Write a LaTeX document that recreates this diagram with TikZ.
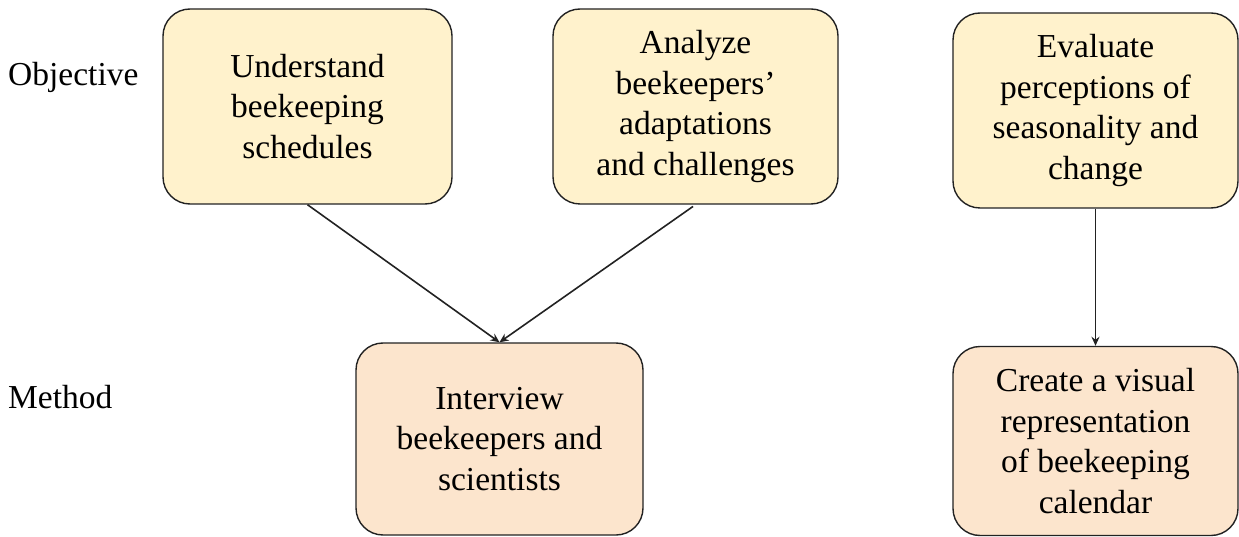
\documentclass[tikz,border=0pt]{standalone}
\usepackage{fontspec}
\setmainfont{Liberation Serif}
\usetikzlibrary{arrows.meta}
\definecolor{objfill}{HTML}{FFF2CC}
\definecolor{metfill}{HTML}{FCE5CD}
\definecolor{edge}{HTML}{222222}
\tikzset{
  box/.style={draw=edge, line width=1.4pt, rounded corners=27pt, inner sep=0pt,
    align=center, font=\fontsize{33.5}{40.5}\selectfont, text=black},
  objbox/.style={box, fill=objfill},
  metbox/.style={box, fill=metfill},
  rowlabel/.style={anchor=base west, inner sep=0pt, font=\fontsize{33.5}{40.5}\selectfont},
  conn/.style={draw=edge, line width=1.6pt, -{Stealth[length=9pt,width=8pt]}}
}
\begin{document}
\begin{tikzpicture}[x=1pt,y=-1pt]
\useasboundingbox (0,0) rectangle (1239,537);
\node[rowlabel] (lobj) at (8,86) {Objective};
\node[rowlabel] (lmet) at (8,408) {Method};
\node[objbox, minimum width=289pt, minimum height=195pt] (o1) at (307.5,106.5) {Understand\\beekeeping\\schedules};
\node[objbox, minimum width=285pt, minimum height=195pt] (o2) at (695.5,106.5) {Analyze\\beekeepers’\\adaptations\\and challenges};
\node[objbox, minimum width=285pt, minimum height=195pt] (o3) at (1095.5,110.5) {Evaluate\\perceptions of\\seasonality and\\change};
\node[metbox, minimum width=287pt, minimum height=192pt] (m1) at (499.5,439) {Interview\\beekeepers and\\scientists};
\node[metbox, minimum width=285pt, minimum height=189pt] (m2) at (1095.5,441) {Create a visual\\representation\\of beekeeping\\calendar};
\draw[conn] (o1.south) -- (m1.north);
\draw[conn, shorten <=3pt] (o2.south) -- (m1.north);
\draw[conn] (o3.south) -- (m2.north);
\end{tikzpicture}
\end{document}
